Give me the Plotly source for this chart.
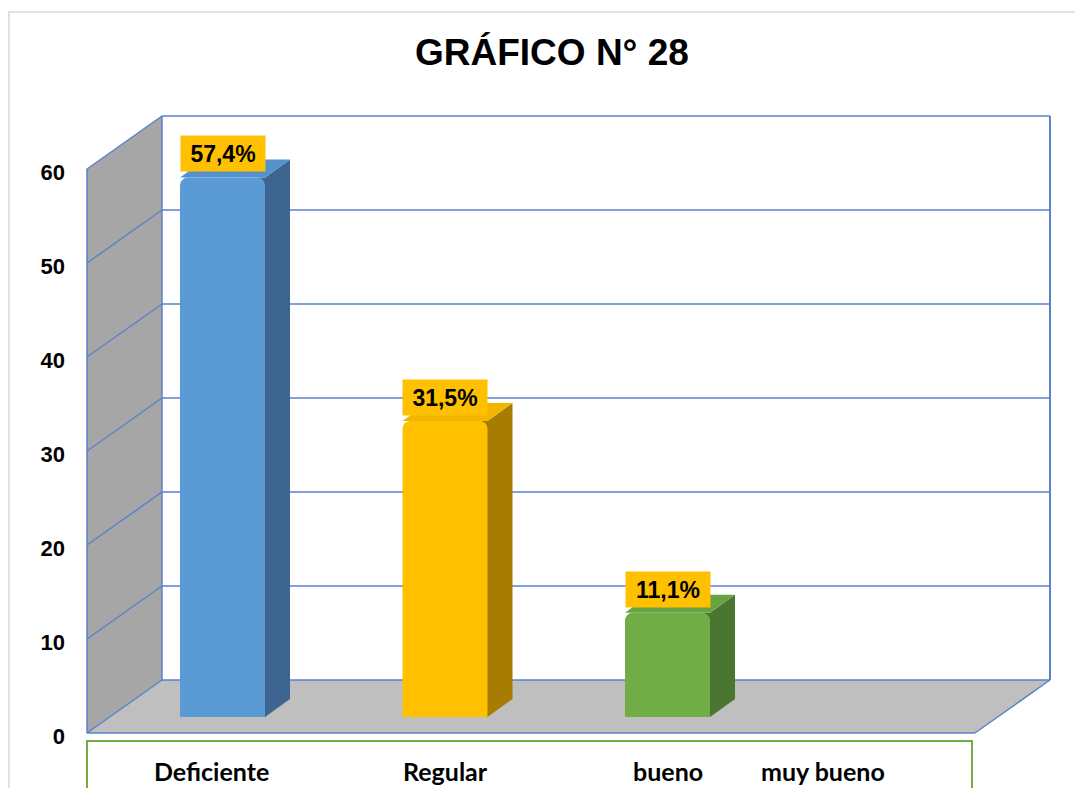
import plotly.graph_objects as go

# ---------------- data ----------------
categories = ["Deficiente", "Regular", "bueno", "muy bueno"]
values = [57.4, 31.5, 11.1, 0.0]
y_ticks = [0, 10, 20, 30, 40, 50, 60]
title_text = "GRÁFICO N° 28"

front_colors = ["#5b9bd5", "#ffc000", "#70ad47", "#a5a5a5"]
side_colors = ["#3d6590", "#a67d00", "#4a7630", "#777777"]
top_colors = ["#5592cb", "#f2b600", "#68a342", "#9a9a9a"]
label_shift_px = [-11, 0, 0, -67]   # position of category captions vs. bar centre

# ---------------- geometry (pixels of the 1083x788 page) ----------------
OFF = 8                                   # browser body margin
W, H = 1083 - OFF, 788 - OFF              # figure size
L, R, T, B = 80, 1060, 105, 745           # plot area in page pixels
X0_PX, PX_PER_X = 222.5, 222.5            # category 0 centre, px per category
Y0_PX, PX_PER_Y = 717.0, 9.4              # bar base, px per unit

x_range = [(L - X0_PX) / PX_PER_X, (R - X0_PX) / PX_PER_X]
y_range = [(Y0_PX - B) / PX_PER_Y, (Y0_PX - T) / PX_PER_Y]

def px_x(p):
    return (p - X0_PX) / PX_PER_X

def px_y(p):
    return (Y0_PX - p) / PX_PER_Y

def paper_x(p):
    return (p - L) / (R - L)

def paper_y(p):
    return (B - p) / (B - T)

XL, XR = px_x(87), px_x(975)       # floor front edge
DXW = 75 / PX_PER_X                # wall depth (x)
F0, B0 = px_y(733), px_y(680)      # front / back base lines
TOP = max(y_ticks)

BAR_W = 85 / PX_PER_X
DDX = 25 / PX_PER_X
DDY = 18 / PX_PER_Y

LINE = "#5a80d0"
shapes = []

# outer chart border
shapes.append(dict(type="rect", xref="paper", yref="paper",
                   x0=paper_x(9), x1=paper_x(1100), y0=paper_y(12), y1=paper_y(820),
                   line=dict(color="#d9d9d9", width=1.5), fillcolor="rgba(0,0,0,0)",
                   layer="below"))

def path(pts):
    return "M " + " L ".join(f"{x},{y}" for x, y in pts) + " Z"

# left wall
shapes.append(dict(type="path", xref="x", yref="y", layer="below",
                   path=path([(XL, F0), (XL, F0 + TOP), (XL + DXW, B0 + TOP), (XL + DXW, B0)]),
                   fillcolor="#a6a6a6", line=dict(width=0)))
# floor
shapes.append(dict(type="path", xref="x", yref="y", layer="below",
                   path=path([(XL, F0), (XR, F0), (XR + DXW, B0), (XL + DXW, B0)]),
                   fillcolor="#bfbfbf", line=dict(width=0)))

def seg(x0, y0, x1, y1, w=1.5):
    shapes.append(dict(type="line", xref="x", yref="y", layer="below",
                       x0=x0, y0=y0, x1=x1, y1=y1, line=dict(color=LINE, width=w)))

for t in y_ticks:
    seg(XL + DXW, B0 + t, XR + DXW, B0 + t)      # back wall gridline
    seg(XL, F0 + t, XL + DXW, B0 + t)            # side wall gridline
seg(XL + DXW, B0, XL + DXW, B0 + TOP)
seg(XR + DXW, B0, XR + DXW, B0 + TOP, 2)
seg(XL, F0, XL, F0 + TOP)
seg(XL, F0, XR, F0)
seg(XR, F0, XR + DXW, B0)

# 3-D side and top faces of the bars (computed from the values)
for i, v in enumerate(values):
    if v <= 0:
        continue
    xr = i + BAR_W / 2
    xl = i - BAR_W / 2
    shapes.append(dict(type="path", xref="x", yref="y", layer="below",
                       path=path([(xr - 0.03, 0), (xr, 0), (xr + DDX, DDY),
                                  (xr + DDX, v + DDY), (xr, v), (xr - 0.03, v)]),
                       fillcolor=side_colors[i], line=dict(width=0)))
    shapes.append(dict(type="path", xref="x", yref="y", layer="below",
                       path=path([(xl, v), (xr, v), (xr + DDX, v + DDY), (xl + DDX, v + DDY)]),
                       fillcolor=top_colors[i], line=dict(width=0)))

# caption box
shapes.append(dict(type="rect", xref="paper", yref="paper",
                   x0=paper_x(87), x1=paper_x(972), y0=paper_y(741), y1=paper_y(810),
                   line=dict(color="#70ad47", width=2), fillcolor="rgba(0,0,0,0)"))

fig = go.Figure()
fig.add_trace(go.Bar(
    x=list(range(len(categories))), y=values, width=BAR_W,
    marker=dict(color=front_colors, line=dict(width=0), cornerradius=8),
    hovertext=categories, showlegend=False))

annotations = []
for i, v in enumerate(values):
    if v <= 0:
        continue
    annotations.append(dict(
        x=i, y=v, xref="x", yref="y", yanchor="bottom", yshift=5,
        text="<b>" + f"{v:.1f}".replace(".", ",") + "%</b>",
        showarrow=False, bgcolor="#ffc000", width=84, height=35, borderpad=0,
        font=dict(family="Liberation Sans", size=23, color="#000000")))

for i, c in enumerate(categories):
    annotations.append(dict(
        x=i, y=paper_y(771), xref="x", yref="paper", yanchor="middle",
        xshift=label_shift_px[i], text=f"<b>{c}</b>", showarrow=False,
        font=dict(family="Lato", size=25, color="#000000")))

annotations.append(dict(
    x=paper_x(552), y=paper_y(53), xref="paper", yref="paper",
    xanchor="center", yanchor="middle", text=f"<b>{title_text}</b>", showarrow=False,
    font=dict(family="Liberation Sans", size=37, color="#000000")))

fig.update_layout(
    width=W, height=H,
    margin=dict(l=L - OFF, r=(W + OFF) - R, t=T - OFF, b=(H + OFF) - B, pad=0),
    paper_bgcolor="white", plot_bgcolor="rgba(0,0,0,0)",
    barmode="overlay",
    shapes=shapes, annotations=annotations,
    xaxis=dict(range=x_range, showgrid=False, zeroline=False, showticklabels=False,
               showline=False, fixedrange=True),
    yaxis=dict(range=y_range, showgrid=False, zeroline=False, showline=False,
               tickmode="array", tickvals=[F0 + t - 0.3 for t in y_ticks],
               ticktext=[f"<b>{t}</b>" for t in y_ticks], ticks="",
               ticklabelstandoff=14,
               tickfont=dict(family="Liberation Sans", size=22, color="#000000"),
               fixedrange=True),
    showlegend=False,
)

fig.write_html("out.html")
